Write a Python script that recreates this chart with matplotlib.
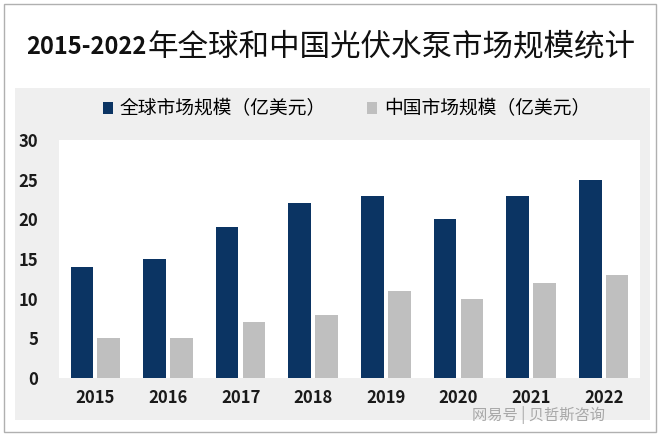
import numpy as np
import matplotlib.pyplot as plt
from matplotlib.patches import Rectangle

plt.rcParams['font.family'] = ['Noto Sans CJK SC', 'DejaVu Sans']

# --- 数据 --------------------------------------------------------------------
years = ['2015', '2016', '2017', '2018', '2019', '2020', '2021', '2022']
global_size = [14, 15, 19, 22, 23, 20, 23, 25]
china_size = [5, 5, 7, 8, 11, 10, 12, 13]
title_num = '2015-2022'
title_txt = '年全球和中国光伏水泵市场规模统计'
label_global = '全球市场规模（亿美元）'
label_china = '中国市场规模（亿美元）'

c_global = '#0b3463'
c_china = '#bfbfbf'

fig = plt.figure(figsize=(6.6, 4.36), dpi=100)

# 外框与灰色底板（放在坐标轴下面）
fig.add_artist(Rectangle((4 / 660, 4 / 436), 652 / 660, 428 / 436,
                         transform=fig.transFigure, fill=False,
                         edgecolor='#b0b0b0', linewidth=1.0, zorder=-10))
fig.add_artist(Rectangle((15 / 660, 1 - 420 / 436), 635 / 660, 332 / 436,
                         transform=fig.transFigure, facecolor='#efefef',
                         edgecolor='none', zorder=-10))

ax = fig.add_axes([59 / 660, 1 - 378 / 436, 581 / 660, 238 / 436])
x = np.arange(len(years))
w = 0.31
ax.bar(x - 0.185, global_size, w, color=c_global, label=label_global)
ax.bar(x + 0.185, china_size, w, color=c_china, label=label_china)

ax.set_xlim(-0.5, len(years) - 0.5)
ax.set_ylim(0, 30)
ax.set_yticks(range(0, 31, 5))
ax.set_xticks(x)
ax.set_xticklabels(years)
for s in ax.spines.values():
    s.set_visible(False)
ax.tick_params(length=0, labelsize=12)
ax.tick_params(axis='y', pad=15)
ax.tick_params(axis='x', pad=8)
for t in ax.get_xticklabels() + ax.get_yticklabels():
    t.set_fontweight('bold')
    t.set_color('#1a1a1a')

# 标题：数字加粗，中文常规，两段拼接后整体居中
ty = 1 - 47 / 436
t1 = fig.text(0, ty, title_num, ha='left', va='center',
              fontsize=17, fontweight='bold', color='#111111')
t2 = fig.text(0, ty, title_txt, ha='left', va='center',
              fontsize=22, color='#111111')
r = fig.canvas.get_renderer()
w1 = t1.get_window_extent(r).width
w2 = t2.get_window_extent(r).width
x0 = (660 - w1 - w2) / 2
t1.set_x(x0 / 660)
t2.set_x((x0 + w1 + 1) / 660)

fig.legend(loc='center', bbox_to_anchor=(0.525, 1 - 109 / 436), ncol=2,
           frameon=False, fontsize=13.5, handlelength=0.55, handleheight=0.55,
           handletextpad=0.35, columnspacing=2.2)

fig.text(605 / 660, 1 - 415 / 436, '网易号 | 贝哲斯咨询', ha='right',
         va='center', fontsize=11, color='#a8a8a8')

fig.savefig('out.png', dpi=100)
